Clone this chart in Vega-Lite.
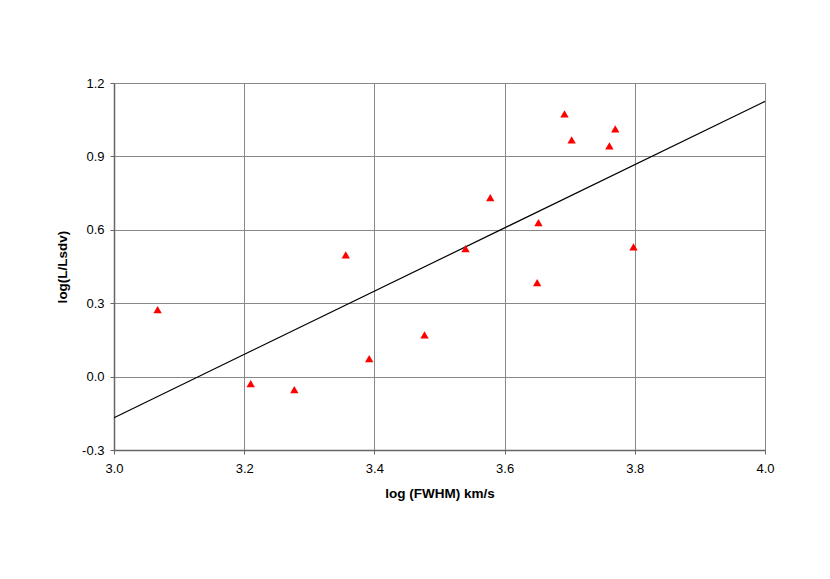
{
  "$schema": "https://vega.github.io/schema/vega-lite/v6.json",
  "autosize": "none",
  "width": 651,
  "height": 367,
  "padding": {"left": 114, "top": 83, "right": 65, "bottom": 129},
  "background": "white",
  "config": {
    "view": {"stroke": null},
    "font": "Liberation Sans",
    "axis": {
      "labelFont": "Liberation Sans",
      "labelFontSize": 13,
      "labelColor": "black",
      "titleFont": "Liberation Sans",
      "titleFontSize": 13.5,
      "titleFontWeight": "bold",
      "titleColor": "black",
      "gridColor": "#888888",
      "gridOpacity": 1,
      "gridWidth": 1,
      "domainColor": "#666666",
      "domainWidth": 1.5,
      "tickColor": "#666666",
      "tickSize": 4
    }
  },
  "datasets": {
    "pts": [
      {"x": 3.067, "y": 0.274},
      {"x": 3.210, "y": -0.029},
      {"x": 3.277, "y": -0.053},
      {"x": 3.356, "y": 0.498},
      {"x": 3.392, "y": 0.073},
      {"x": 3.477, "y": 0.171},
      {"x": 3.540, "y": 0.523},
      {"x": 3.578, "y": 0.732},
      {"x": 3.650, "y": 0.384},
      {"x": 3.652, "y": 0.629},
      {"x": 3.692, "y": 1.074},
      {"x": 3.703, "y": 0.968},
      {"x": 3.761, "y": 0.943},
      {"x": 3.770, "y": 1.013},
      {"x": 3.798, "y": 0.530}
    ],
    "fit": [
      {"x": 3.0, "y": -0.168},
      {"x": 4.0, "y": 1.125}
    ]
  },
  "layer": [
    {
      "data": {"name": "fit"},
      "mark": {"type": "line", "color": "black", "strokeWidth": 1.2},
      "encoding": {
        "x": {
          "field": "x", "type": "quantitative",
          "scale": {"domain": [3.0, 4.0], "nice": false, "zero": false},
          "axis": {"values": [3.0, 3.2, 3.4, 3.6, 3.8, 4.0], "format": ".1f", "title": "log (FWHM) km/s", "labelPadding": 8, "titlePadding": 11, "labelFlush": false}
        },
        "y": {
          "field": "y", "type": "quantitative",
          "scale": {"domain": [-0.3, 1.2], "nice": false, "zero": false},
          "axis": {"values": [-0.3, 0.0, 0.3, 0.6, 0.9, 1.2], "labelExpr": "datum.value < 0 ? '-' + format(-datum.value, '.1f') : format(datum.value, '.1f')", "title": "log(L/Lsdv)", "labelPadding": 6, "titlePadding": 12, "labelFlush": false}
        }
      }
    },
    {
      "data": {"name": "pts"},
      "mark": {"type": "point", "shape": "triangle-up", "filled": true, "color": "#ff0000", "opacity": 1, "size": 70},
      "encoding": {
        "x": {"field": "x", "type": "quantitative"},
        "y": {"field": "y", "type": "quantitative"}
      }
    }
  ]
}
